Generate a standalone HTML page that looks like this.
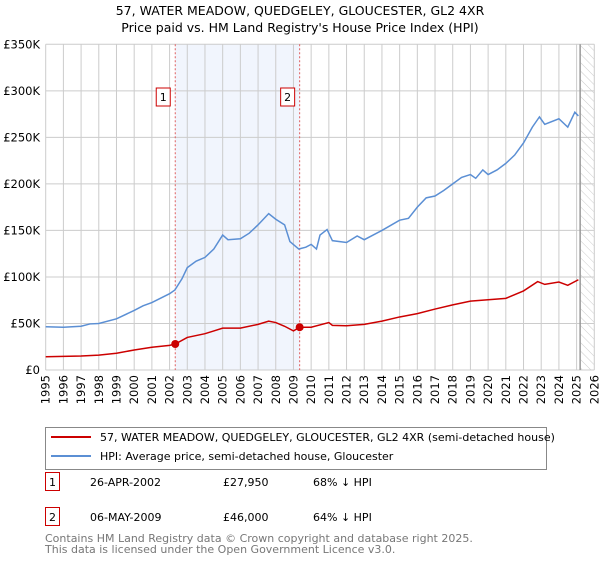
<!DOCTYPE html>
<html><head><meta charset="utf-8"><style>
body{margin:0;background:#fff;font-family:"DejaVu Sans","Liberation Sans",sans-serif}
svg text{font-family:"DejaVu Sans","Liberation Sans",sans-serif}
</style></head><body>
<svg id="chart" width="600" height="560" xmlns="http://www.w3.org/2000/svg">
<defs><pattern id="hatch" width="6" height="6" patternUnits="userSpaceOnUse" patternTransform="rotate(-45)"><line x1="0" y1="0" x2="0" y2="6" stroke="#ccc" stroke-width="1"/></pattern></defs>
<text x="300" y="15" text-anchor="middle" font-size="12.5">57, WATER MEADOW, QUEDGELEY, GLOUCESTER, GL2 4XR</text>
<text x="300" y="32" text-anchor="middle" font-size="12.5">Price paid vs. HM Land Registry's House Price Index (HPI)</text>
<g id="plot"></g>
<g>
<rect x="45.5" y="427.5" width="501" height="42" fill="#fff" stroke="#888"/>
<line x1="51" y1="437" x2="91" y2="437" stroke="#cc0000" stroke-width="2"/>
<text x="100" y="441" font-size="11">57, WATER MEADOW, QUEDGELEY, GLOUCESTER, GL2 4XR (semi-detached house)</text>
<line x1="51" y1="456" x2="91" y2="456" stroke="#5b8fd4" stroke-width="2"/>
<text x="100" y="460" font-size="11">HPI: Average price, semi-detached house, Gloucester</text>
</g>
<g font-size="11">
<rect x="45.5" y="472.5" width="14" height="18" fill="#fff" stroke="#cc0000"/><text x="52.5" y="486" text-anchor="middle">1</text>
<text x="90" y="486">26-APR-2002</text><text x="223" y="486">£27,950</text><text x="313" y="486">68% ↓ HPI</text>
<rect x="45.5" y="507.5" width="14" height="18" fill="#fff" stroke="#cc0000"/><text x="52.5" y="521" text-anchor="middle">2</text>
<text x="90" y="521">06-MAY-2009</text><text x="223" y="521">£46,000</text><text x="313" y="521">64% ↓ HPI</text>
</g>
<text x="45" y="542" font-size="11" fill="#777">Contains HM Land Registry data © Crown copyright and database right 2025.</text>
<text x="45" y="553" font-size="11" fill="#777">This data is licensed under the Open Government Licence v3.0.</text>
</svg>
<script>
const yTicks=[0,50,100,150,200,250,300,350];
const yTickLabels=["£0","£50K","£100K","£150K","£200K","£250K","£300K","£350K"];
const years=[1995,1996,1997,1998,1999,2000,2001,2002,2003,2004,2005,2006,2007,2008,2009,2010,2011,2012,2013,2014,2015,2016,2017,2018,2019,2020,2021,2022,2023,2024,2025,2026];
const hpiX=[1995,1996,1997,1997.5,1998,1999,2000,2000.5,2001,2002,2002.3,2002.7,2003,2003.5,2004,2004.5,2005,2005.3,2006,2006.5,2007,2007.6,2008,2008.5,2008.8,2009.3,2009.7,2010,2010.3,2010.5,2010.9,2011.2,2012,2012.6,2013,2013.5,2014,2015,2015.5,2016,2016.5,2017,2017.5,2018,2018.5,2019,2019.3,2019.7,2020,2020.5,2021,2021.5,2022,2022.5,2022.9,2023.2,2024,2024.5,2024.9,2025.1];
const hpiY=[46.5,46,47,49.5,50,55,64,69,72.5,82,86,98,110,117,121,130,145,140,141,147,156,168,162,156,138,130,132,135,130,145,151,139,137,144,140,145,150,161,163,175,185,187,193,200,207,210,206,215,210,215,222,231,244,261,272,264,270,261,277,273];
const ppX=[1995,1997,1998,1999,2000,2001,2002,2002.32,2003,2004,2004.5,2005,2006,2007,2007.6,2008,2008.5,2009,2009.35,2010,2011,2011.2,2012,2013,2014,2015,2016,2017,2018,2019,2020,2021,2022,2022.8,2023.2,2024,2024.5,2025.1];
const ppY=[14.3,15,16,18,21.5,24.5,26.5,27.95,35,39,42,45,45,49,52.5,51,47,42,46,46,51,48,47.5,49,52.5,57,60.6,65.5,70,74,75.5,77,85,95,92,94.5,91,97];
const salesX=[2002.32,2009.35];
const salesY=[27.95,46];
const salesLabels=["1","2"];
const X0=45.7,X1=594.3,Y0=370,Y1=44.3;
const xs=y=>X0+(y-1995)/(2026-1995)*(X1-X0);
const ys=v=>Y0-v/350*(Y0-Y1);
const NS="http://www.w3.org/2000/svg";
const g=document.getElementById('plot');
function mk(t,a,p){const e=document.createElementNS(NS,t);for(const k in a)e.setAttribute(k,a[k]);(p||g).appendChild(e);return e;}
const bg=mk('rect',{x:xs(salesX[0]),y:Y1,width:xs(salesX[1])-xs(salesX[0]),height:Y0-Y1,fill:'#eef3fc',opacity:0.8});


const ht=mk('rect',{x:xs(2025.2),y:Y1,width:X1-xs(2025.2),height:Y0-Y1,fill:'url(#hatch)'});


yTicks.forEach((v,i)=>{
 const l=mk('line',{x1:X0,x2:X1,y1:ys(v),y2:ys(v),stroke:'#ccc'});
 
 
 const t=mk('text',{x:40,y:ys(v)+4,'text-anchor':'end','font-size':11.5});
 
 
 t.textContent=yTickLabels[i];
});
years.forEach(y=>{
 const l=mk('line',{x1:xs(y),x2:xs(y),y1:Y1,y2:Y0,stroke:'#ccc'});
 
 
 const t=mk('text',{x:0,y:0,'text-anchor':'end','font-size':11.5,transform:`translate(${xs(y)+4},375) rotate(-90)`});
 
 
 t.textContent=y;
});
const vl=mk('line',{x1:xs(2025.2),x2:xs(2025.2),y1:Y1,y2:Y0,stroke:'#999','stroke-width':1.5});


salesX.forEach((x,i)=>{
 const l=mk('line',{x1:xs(x),x2:xs(x),y1:Y1,y2:Y0,stroke:'#e06060','stroke-dasharray':'2,2'});
 
 
 const r=mk('rect',{x:xs(x)-19,y:88,width:14,height:18,fill:'#fff',stroke:'#cc0000'});
 
 
 const t=mk('text',{x:xs(x)-12,y:101,'text-anchor':'middle','font-size':11});
 
 
 t.textContent=salesLabels[i];
});
const hp=mk('polyline',{points:hpiX.map((x,i)=>xs(x)+','+ys(hpiY[i])).join(' '),fill:'none',stroke:'#5b8fd4','stroke-width':1.5});


const pp=mk('polyline',{points:ppX.map((x,i)=>xs(x)+','+ys(ppY[i])).join(' '),fill:'none',stroke:'#cc0000','stroke-width':1.5});


salesX.forEach((x,i)=>{
 const c=mk('circle',{cx:xs(x),cy:ys(salesY[i]),r:4,fill:'#cc0000'});
 
 
});
</script>
</body></html>
